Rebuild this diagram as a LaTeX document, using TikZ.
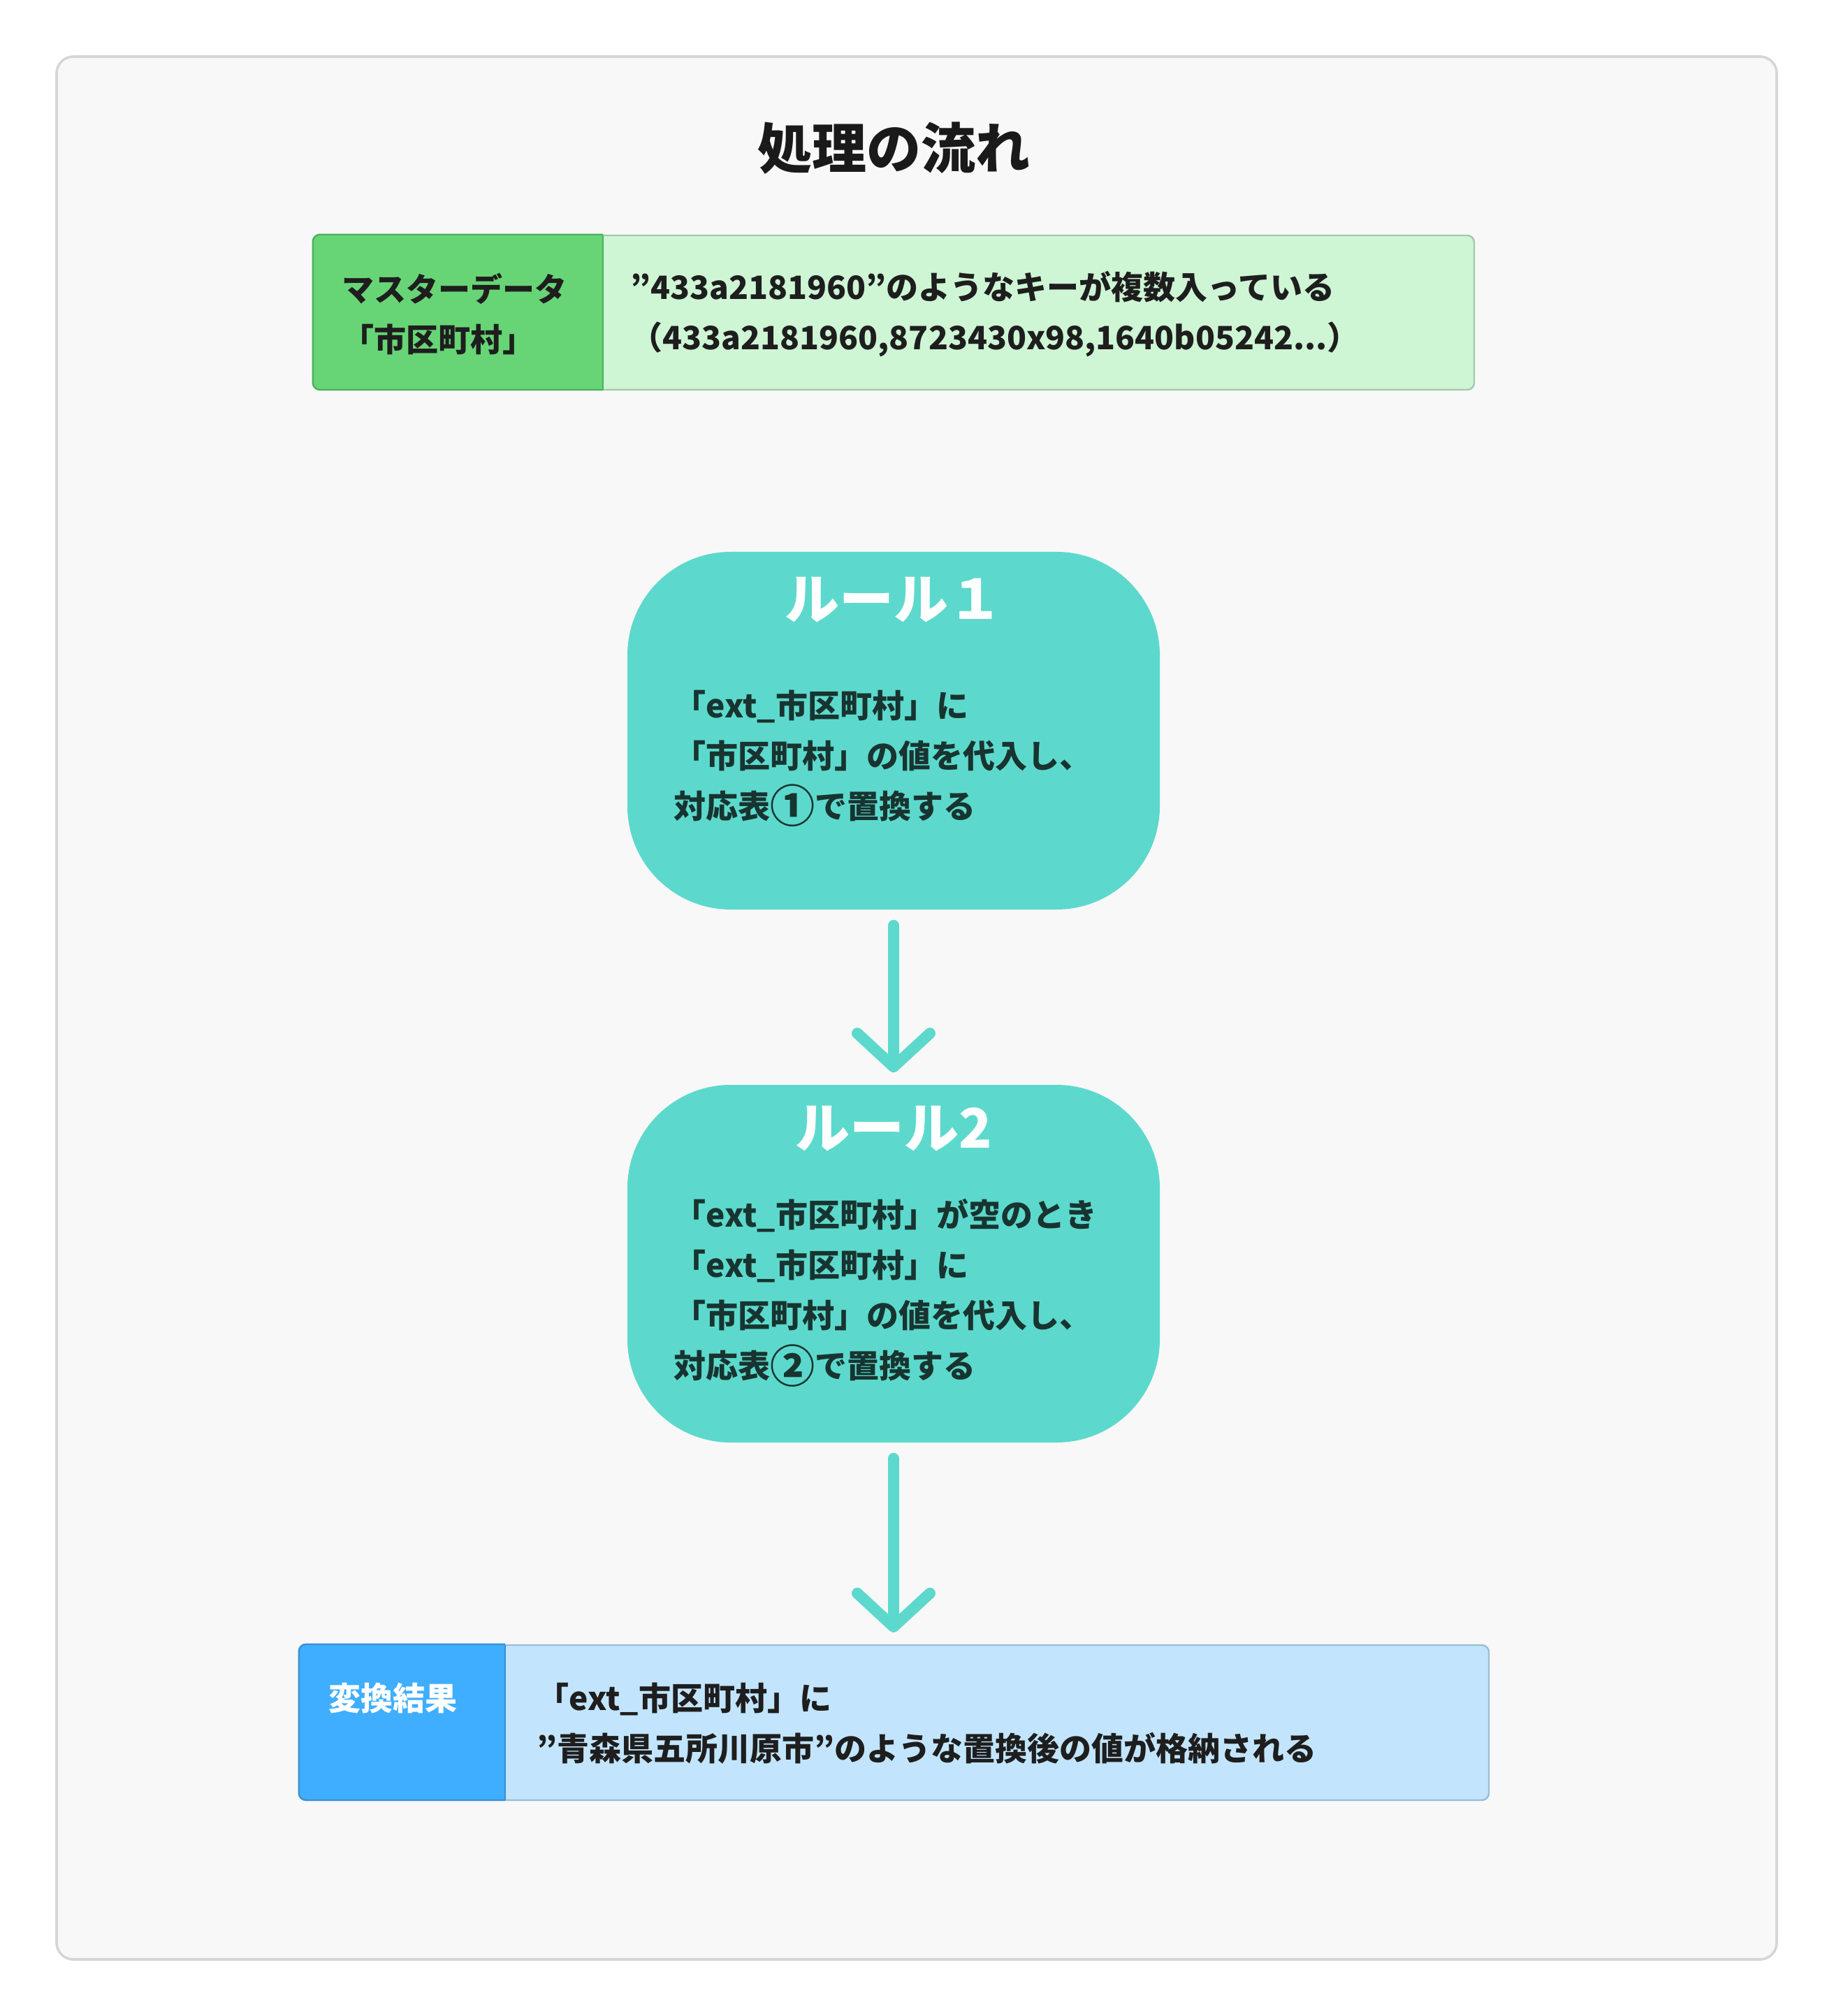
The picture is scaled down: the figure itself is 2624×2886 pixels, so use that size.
\documentclass[tikz,border=0pt]{standalone}
\usepackage{fontspec}
\setmainfont{Noto Sans CJK JP}
\usetikzlibrary{arrows.meta}
\definecolor{framefill}{HTML}{F8F8F8}
\definecolor{framedraw}{HTML}{D6D6D6}
\definecolor{titlecol}{HTML}{1A1A1A}
\definecolor{textdark}{HTML}{1E1E1E}
\definecolor{ruletext}{HTML}{183430}
\definecolor{teal}{HTML}{5CD9CC}
\definecolor{mleft}{HTML}{67D575}
\definecolor{mleftb}{HTML}{4DB05C}
\definecolor{mright}{HTML}{CEF5D4}
\definecolor{mrightb}{HTML}{A6C8AA}
\definecolor{rleft}{HTML}{3FAEFF}
\definecolor{rleftb}{HTML}{3A90D4}
\definecolor{rright}{HTML}{C2E5FD}
\definecolor{rrightb}{HTML}{9DBCD4}
\newcommand{\circnum}[1]{\raisebox{-1.6pt}{\fontsize{16pt}{18pt}\selectfont #1}}
\begin{document}
\begin{tikzpicture}[x=0.25pt,y=-0.25pt,
  txt/.style={inner sep=0pt, align=left, anchor=west, text=textdark, font=\bfseries\fontsize{11.5pt}{18pt}\selectfont},
  rulebox/.style={rectangle, rounded corners=37pt, fill=teal, minimum width=190.5pt, minimum height=128pt, inner sep=0pt},
  ruletitle/.style={inner sep=0pt, text=white, font=\bfseries\fontsize{19.5pt}{22pt}\selectfont},
  barbox/.style={rectangle, inner sep=0pt, rounded corners=2.5pt, line width=0.6pt},
  flow/.style={draw=teal, line width=4pt, line cap=round, -{Straight Barb[length=12pt,width=26pt,round]}, shorten <=5.5pt, shorten >=4.25pt},
]
\fill[white] (0,0) rectangle (2624,2886);
\useasboundingbox (0,0) rectangle (2624,2886);
\draw[draw=framedraw, fill=framefill, line width=0.9pt, rounded corners=6pt] (81,81) rectangle (2543,2805);

\node[font=\bfseries\fontsize{19.5pt}{22pt}\selectfont, text=titlecol, inner sep=0pt] (title) at (1279,212) {処理の流れ};

% master data box
\node[barbox, fill=mright, draw=mrightb, minimum width=415.25pt, minimum height=55.25pt] (master) at (1279.5,447.5) {};
\begin{scope}
  \clip (430,320) rectangle (863,575);
  \fill[mleft, rounded corners=2.5pt] (master.north west) rectangle ([xshift=20pt]863,558);
  \draw[mleftb, line width=0.6pt, rounded corners=2.5pt] (master.north west) rectangle ([xshift=20pt]863,558);
\end{scope}
\draw[mleftb, line width=0.6pt] (863,337) -- (863,558);
\node[txt] (mlabel) at (489,450) {マスターデータ\\「市区町村」};
\node[txt] (mtext) at (902,450) {”433a2181960”のようなキーが複数入っている\\（433a2181960,8723430x98,1640b05242...）};

% rule 1
\node[rulebox] (rule1) at (1279,1046) {};
\node[ruletitle] (r1title) at (1279,859) {ルール１};
\node[txt, text=ruletext] (r1text) at (964,1086) {「ext\_市区町村」に\\「市区町村」の値を代入し、\\対応表\circnum{①}で置換する};

% rule 2
\node[rulebox] (rule2) at (1279,1809) {};
\node[ruletitle] (r2title) at (1279,1616) {ルール2};
\node[txt, text=ruletext] (r2text) at (964,1851) {「ext\_市区町村」が空のとき\\「ext\_市区町村」に\\「市区町村」の値を代入し、\\対応表\circnum{②}で置換する};

% result box
\node[barbox, fill=rright, draw=rrightb, minimum width=425.5pt, minimum height=55.5pt] (result) at (1280,2466) {};
\begin{scope}
  \clip (410,2340) rectangle (723,2595);
  \fill[rleft, rounded corners=2.5pt] (result.north west) rectangle ([xshift=20pt]723,2577);
  \draw[rleftb, line width=0.6pt, rounded corners=2.5pt] (result.north west) rectangle ([xshift=20pt]723,2577);
\end{scope}
\draw[rleftb, line width=0.6pt] (723,2355) -- (723,2577);
\node[txt, text=white] (rlabel) at (470,2431) {変換結果};
\node[txt] (rtext) at (768,2467) {「ext\_市区町村」に\\”青森県五所川原市”のような置換後の値が格納される};

% arrows
\draw[flow] (rule1) -- (rule2);
\draw[flow] (rule2.south) -- (rule2.south |- result.north);
\end{tikzpicture}
\end{document}
